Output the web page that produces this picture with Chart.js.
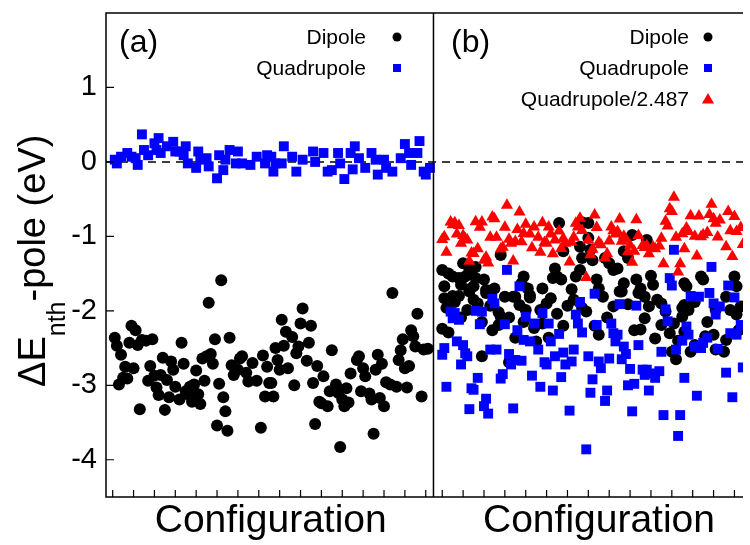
<!DOCTYPE html>
<html>
<head>
<meta charset="utf-8">
<script src="https://cdn.jsdelivr.net/npm/chart.js@4.4.1/dist/chart.umd.min.js"></script>
<style>
  html, body { margin: 0; padding: 0; background: #fff; }
</style>
</head>
<body>
<canvas id="chart" width="750" height="545"></canvas>
<script>
// [configuration, ΔE (eV)]
const dipoleA = [[1,-2.36],[2,-2.47],[3,-2.99],[4,-2.59],[5,-2.90],[6,-2.75],[7,-2.91],[8,-2.43],[9,-2.20],[10,-2.77],[11,-2.26],[12,-2.46],[13,-3.32],[14,-2.39],[16,-2.40],[17,-2.94],[18,-2.74],[19,-2.38],[20,-2.87],[21,-3.03],[22,-3.13],[23,-2.86],[24,-2.63],[25,-3.33],[26,-2.93],[27,-3.16],[28,-2.68],[29,-2.79],[30,-3.02],[32,-3.19],[33,-2.43],[34,-2.71],[35,-3.08],[36,-3.12],[37,-3.02],[38,-3.22],[39,-2.99],[40,-2.80],[41,-3.12],[42,-3.25],[43,-2.64],[44,-2.94],[45,-2.61],[46,-1.89],[47,-2.58],[48,-2.71],[49,-2.38],[50,-3.54],[51,-2.98],[52,-1.59],[53,-3.16],[54,-3.35],[55,-3.61],[56,-2.36],[57,-2.73],[58,-2.86],[60,-2.79],[61,-2.64],[62,-2.61],[64,-2.83],[65,-2.95],[67,-2.70],[69,-2.94],[71,-3.57],[72,-2.60],[73,-3.15],[74,-2.75],[75,-2.97],[76,-2.97],[77,-3.15],[78,-2.50],[79,-2.66],[80,-2.79],[81,-2.12],[82,-2.47],[83,-2.28],[84,-2.77],[86,-2.35],[87,-3.00],[88,-2.57],[89,-2.48],[90,-2.17],[91,-1.97],[93,-2.67],[94,-2.43],[95,-2.20],[96,-2.97],[97,-3.52],[98,-2.74],[99,-3.22],[100,-3.24],[101,-2.88],[103,-3.28],[104,-3.08],[105,-2.53],[107,-2.99],[108,-3.10],[109,-3.83],[110,-3.19],[111,-3.28],[112,-3.04],[113,-3.23],[114,-2.84],[117,-2.66],[118,-2.61],[119,-3.08],[120,-2.77],[121,-2.88],[123,-3.11],[124,-3.19],[125,-3.65],[126,-2.79],[127,-2.59],[128,-3.17],[129,-2.71],[130,-3.28],[131,-2.96],[133,-2.99],[134,-1.76],[136,-3.02],[137,-2.66],[138,-2.53],[139,-2.38],[140,-2.77],[141,-3.03],[142,-2.74],[143,-2.26],[144,-2.34],[145,-2.48],[146,-2.04],[148,-3.15],[149,-2.52],[151,-2.51]];

const quadA = [[1,0.03],[2,-0.02],[4,0.07],[7,0.12],[9,0.07],[11,0.05],[12,-0.04],[14,0.37],[15,0.16],[17,0.09],[20,0.25],[21,0.16],[22,0.32],[23,0.12],[26,0.21],[29,0.27],[30,0.14],[32,0.14],[34,0.09],[35,0.21],[36,-0.02],[40,-0.08],[41,0.14],[42,0.03],[45,0.05],[46,-0.06],[50,-0.22],[51,0.09],[53,-0.11],[54,0.03],[56,0.16],[59,-0.02],[60,0.14],[62,-0.02],[66,-0.04],[69,0.07],[73,-0.02],[74,0.09],[76,0.07],[77,-0.13],[78,-0.02],[81,-0.02],[82,0.21],[86,0.07],[88,-0.13],[91,0.03],[96,0.14],[97,0.00],[101,0.12],[103,-0.13],[105,-0.11],[108,0.12],[109,-0.02],[111,-0.23],[114,0.12],[115,-0.10],[116,0.21],[118,0.05],[121,-0.08],[124,0.12],[126,0.03],[127,-0.17],[130,0.03],[131,-0.08],[134,-0.13],[138,0.05],[140,0.24],[142,0.12],[143,-0.04],[146,0.12],[147,0.28],[149,-0.13],[150,-0.17],[152,-0.08]];

const dipoleB = [[0,-1.45],[0,-2.24],[1,-1.83],[1,-1.67],[2,-1.96],[3,-1.50],[3,-2.29],[5,-1.54],[5,-1.80],[6,-1.88],[8,-1.56],[8,-1.80],[9,-1.65],[9,-2.09],[10,-1.36],[11,-1.54],[12,-1.99],[13,-1.74],[13,-1.71],[13,-1.45],[15,-1.67],[15,-1.85],[16,-1.41],[16,-1.56],[17,-1.90],[19,-2.61],[19,-2.15],[20,-1.58],[21,-1.72],[21,-1.76],[23,-1.93],[24,-2.26],[25,-1.70],[27,-2.02],[27,-2.19],[28,-1.25],[28,-2.08],[30,-1.81],[32,-2.69],[32,-2.09],[34,-1.81],[35,-1.81],[35,-2.36],[37,-1.92],[38,-1.63],[39,-1.54],[39,-2.15],[40,-1.99],[41,-1.70],[42,-1.79],[42,-1.82],[44,-2.23],[45,-2.41],[47,-1.99],[48,-1.70],[48,-2.17],[50,-1.90],[51,-2.36],[52,-1.83],[53,-1.56],[54,-1.43],[55,-1.54],[55,-2.04],[56,-0.82],[57,-1.58],[58,-1.20],[58,-2.20],[60,-1.93],[62,-1.71],[63,-1.85],[64,-1.54],[66,-1.45],[66,-1.14],[67,-1.29],[67,-0.81],[67,-1.96],[69,-2.01],[70,-0.82],[70,-1.02],[71,-1.18],[72,-1.32],[73,-2.20],[74,-1.58],[75,-1.70],[75,-2.32],[77,-1.81],[78,-1.29],[79,-2.09],[80,-1.36],[82,-1.94],[82,-1.45],[84,-1.43],[85,-1.74],[86,-1.74],[87,-1.20],[87,-1.63],[89,-1.29],[89,-1.91],[91,-0.98],[92,-2.26],[93,-1.58],[94,-1.76],[95,-1.70],[95,-2.25],[97,-1.81],[97,-2.10],[98,-1.05],[99,-1.94],[100,-1.53],[101,-1.65],[102,-2.37],[103,-1.85],[105,-2.19],[105,-1.90],[107,-2.01],[109,-2.30],[110,-2.55],[111,-2.17],[112,-2.65],[113,-2.40],[115,-1.96],[115,-2.08],[116,-1.63],[116,-1.92],[116,-2.28],[117,-1.67],[118,-1.99],[119,-2.55],[121,-2.46],[121,-1.88],[124,-1.54],[125,-1.58],[126,-2.34],[127,-2.15],[130,-2.32],[131,-2.52],[131,-1.99],[135,-2.55],[136,-2.39],[136,-1.81],[138,-1.99],[140,-1.54],[141,-1.67],[141,-2.05],[142,-2.26],[143,-1.94]];

const quadB = [[0,-2.59],[1,-2.50],[2,-3.02],[4,-2.01],[5,-2.10],[6,-2.03],[7,-2.41],[8,-2.12],[9,-2.72],[10,-2.46],[11,-2.57],[12,-2.61],[13,-3.32],[14,-3.04],[15,-3.06],[16,-2.00],[17,-2.90],[18,-2.18],[19,-2.01],[20,-3.28],[21,-3.18],[22,-3.38],[23,-2.52],[24,-1.84],[25,-1.90],[26,-2.52],[28,-2.91],[29,-2.85],[30,-2.18],[31,-1.45],[32,-2.58],[33,-2.72],[34,-3.31],[35,-2.66],[36,-2.26],[37,-1.67],[38,-2.67],[39,-2.39],[40,-2.08],[42,-2.41],[43,-2.87],[44,-2.17],[46,-2.52],[47,-3.02],[48,-2.03],[49,-2.69],[50,-2.72],[51,-2.17],[52,-2.41],[53,-3.07],[54,-2.61],[56,-2.31],[57,-2.89],[58,-2.56],[59,-2.72],[61,-3.34],[62,-2.68],[63,-2.52],[64,-2.05],[65,-2.17],[66,-1.88],[67,-2.29],[69,-3.86],[70,-2.61],[71,-3.10],[72,-2.92],[73,-1.77],[74,-2.19],[75,-2.68],[76,-2.77],[78,-3.21],[79,-3.07],[80,-2.64],[81,-2.17],[82,-2.30],[83,-2.41],[84,-2.32],[85,-1.91],[86,-2.65],[87,-2.48],[88,-2.58],[89,-3.00],[90,-2.78],[91,-3.35],[92,-2.98],[93,-1.93],[94,-2.46],[96,-2.79],[97,-2.86],[98,-2.79],[99,-3.07],[101,-2.84],[102,-2.90],[104,-2.81],[105,-2.55],[106,-3.40],[107,-1.98],[108,-2.14],[109,-1.56],[110,-1.66],[111,-1.18],[112,-2.52],[113,-3.68],[114,-3.40],[115,-2.40],[116,-2.90],[117,-2.21],[118,-2.32],[119,-1.80],[121,-2.48],[122,-3.14],[123,-1.81],[124,-2.50],[125,-2.43],[127,-2.36],[128,-1.76],[129,-1.41],[130,-1.90],[131,-2.05],[132,-2.51],[133,-1.94],[136,-2.83],[137,-1.66],[138,-2.30],[139,-3.16],[140,-1.82],[141,-2.32],[143,-2.19],[144,-2.76]];

const quadScale = 2.487; // third series in (b) is the quadrupole term divided by this
const yTicks = [1, 0, -1, -2, -3, -4];
const xTicksA = [0, 10, 20, 30, 40, 50, 60, 70, 80, 90, 100, 110, 120, 130, 140, 150];
const xTicksB = [0, 10, 20, 30, 40, 50, 60, 70, 80, 90, 100, 110, 120, 130, 140];
const legendA = ["Dipole", "Quadrupole"];
const legendB = ["Dipole", "Quadrupole", "Quadrupole/2.487"];

const X_MIN = -3.2, X_MAX = 302;
const B_OFFSET = 157.9;   // panel (b) starts after panel (a) on the shared axis
const DIVIDER = 153.7;
const FONT = '"Liberation Sans", Arial, sans-serif';

const toPts = (arr, shift = 0, scale = 1) => arr.map(([c, v]) => ({ x: c + shift, y: v / scale }));

const marker = (ctx, style, x, y, color, r) => {
    ctx.fillStyle = color;
    ctx.beginPath();
    if (style === "circle") ctx.arc(x, y, r, 0, Math.PI * 2);
    else if (style === "rect") ctx.rect(x - r, y - r, 2 * r, 2 * r);
    else {
        ctx.moveTo(x, y - r * 1.1);
        ctx.lineTo(x + r * 1.1, y + r * 0.8);
        ctx.lineTo(x - r * 1.1, y + r * 0.8);
        ctx.closePath();
    }
    ctx.fill();
};

const decor = {
    id: "decor",
    beforeDatasetsDraw(chart) {
        const { ctx, chartArea: a, scales: { y } } = chart;
        const y0 = y.getPixelForValue(0);
        ctx.save();
        ctx.strokeStyle = "#000";
        ctx.lineWidth = 1.5;
        ctx.setLineDash([8, 6]);
        ctx.beginPath();
        ctx.moveTo(a.left, y0);
        ctx.lineTo(a.right, y0);
        ctx.stroke();
        ctx.restore();
    },
    afterDraw(chart) {
        const { ctx, chartArea: a, scales: { x, y } } = chart;
        const div = x.getPixelForValue(DIVIDER);
        ctx.save();
        ctx.strokeStyle = "#000";
        ctx.lineWidth = 1.5;
        ctx.beginPath();
        ctx.moveTo(a.right, a.top); ctx.lineTo(a.left, a.top); ctx.lineTo(a.left, a.bottom); ctx.lineTo(a.right, a.bottom);
        ctx.moveTo(div, a.top); ctx.lineTo(div, a.bottom);
        ctx.stroke();

        // ticks
        ctx.lineWidth = 1.2;
        ctx.beginPath();
        yTicks.forEach((v) => {
            const py = y.getPixelForValue(v);
            ctx.moveTo(a.left, py); ctx.lineTo(a.left + 8, py);
        });
        xTicksA.forEach((c) => {
            const px = x.getPixelForValue(c);
            ctx.moveTo(px, a.bottom); ctx.lineTo(px, a.bottom - 7);
        });
        xTicksB.forEach((c) => {
            const px = x.getPixelForValue(c + B_OFFSET);
            ctx.moveTo(px, a.bottom); ctx.lineTo(px, a.bottom - 7);
        });
        ctx.stroke();

        ctx.fillStyle = "#000";
        ctx.font = "29px " + FONT;
        ctx.textAlign = "right";
        ctx.textBaseline = "middle";
        yTicks.forEach((v) => ctx.fillText(String(v), 97, y.getPixelForValue(v)));

        // x titles
        ctx.font = "39px " + FONT;
        ctx.textAlign = "center";
        ctx.textBaseline = "alphabetic";
        ctx.fillText("Configuration", (a.left + div) / 2 + 1, 532);
        ctx.fillText("Configuration", 599, 532);

        // y title with subscript
        ctx.save();
        ctx.translate(45, 387);
        ctx.rotate(-Math.PI / 2);
        ctx.textAlign = "left";
        ctx.font = "38px " + FONT;
        ctx.fillText("ΔE", 0, 0);
        let w = ctx.measureText("ΔE").width;
        ctx.font = "25px " + FONT;
        ctx.fillText("nth", w, 20);
        w += ctx.measureText("nth").width;
        ctx.font = "38px " + FONT;
        ctx.fillText("-pole (eV)", w, 0);
        ctx.restore();

        // panel labels
        ctx.font = "32px " + FONT;
        ctx.textAlign = "left";
        ctx.fillText("(a)", 119, 52);
        ctx.fillText("(b)", 451, 52);

        // legends
        ctx.font = "21px " + FONT;
        ctx.textAlign = "right";
        const rows = [44, 75, 106];
        legendA.forEach((t, i) => ctx.fillText(t, 366, rows[i]));
        legendB.forEach((t, i) => ctx.fillText(t, 689, rows[i]));
        marker(ctx, "circle", 397, 37, "#000", 4.5);
        marker(ctx, "rect", 397, 68, "#0000ff", 4);
        marker(ctx, "circle", 708, 37, "#000", 4.5);
        marker(ctx, "rect", 708, 68, "#0000ff", 4);
        marker(ctx, "tri", 708, 99, "#ff0000", 5.5);
        ctx.restore();
    },
};

new Chart(document.getElementById("chart"), {
    type: "scatter",
    data: {
        datasets: [
            { data: toPts(dipoleA), pointStyle: "circle", pointRadius: 6, backgroundColor: "#000", order: 3 },
            { data: toPts(quadA), pointStyle: "rect", pointRadius: 7, backgroundColor: "#0000ff", order: 2 },
            { data: toPts(dipoleB, B_OFFSET), pointStyle: "circle", pointRadius: 6, backgroundColor: "#000", order: 3 },
            { data: toPts(quadB, B_OFFSET), pointStyle: "rect", pointRadius: 7, backgroundColor: "#0000ff", order: 2 },
            { data: toPts(quadB, B_OFFSET, quadScale), pointStyle: "triangle", pointRadius: 7, backgroundColor: "#ff0000", order: 1 },
        ],
    },
    options: {
        responsive: false,
        animation: false,
        devicePixelRatio: 1,
        layout: { padding: { left: 106, top: 13, right: 0, bottom: 48 } },
        elements: { point: { borderWidth: 0, hoverRadius: 6 } },
        plugins: { legend: { display: false }, tooltip: { enabled: false } },
        scales: {
            x: { type: "linear", min: X_MIN, max: X_MAX, display: false },
            y: { type: "linear", min: -4.5, max: 2, display: false },
        },
    },
    plugins: [decor],
});
</script>
</body>
</html>
